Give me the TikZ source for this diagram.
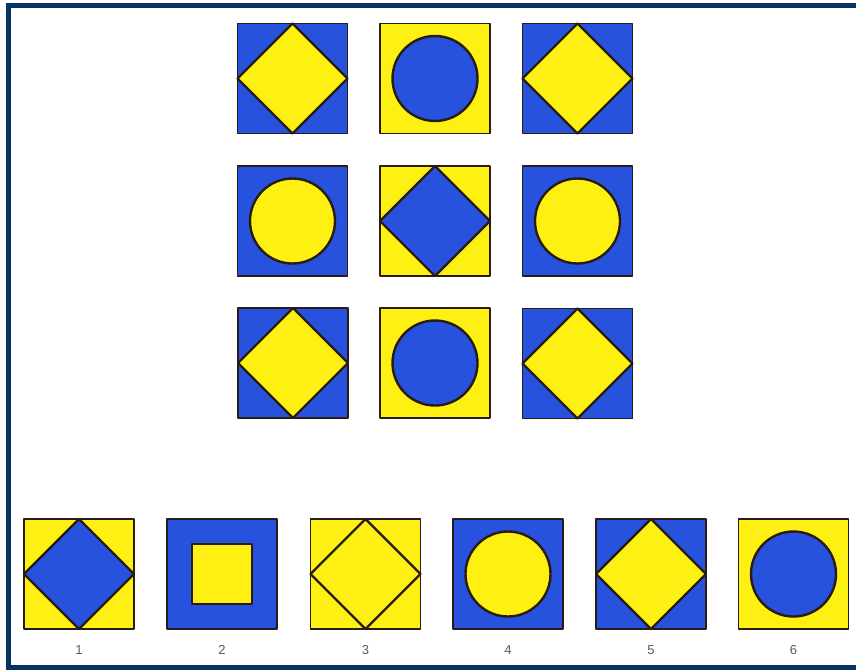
\documentclass[tikz,border=0pt]{standalone}
\usepackage{fontspec}
\setmainfont{Liberation Sans}
\definecolor{tblue}{RGB}{38,82,222}
\definecolor{tyellow}{RGB}{255,240,20}
\definecolor{tline}{RGB}{40,28,20}
\definecolor{tframe}{RGB}{8,52,100}
\definecolor{tlabel}{RGB}{90,90,90}
\tikzset{
  edge/.style={draw=tline, line width=1.9pt, line join=round},
  inner/.style={draw=tline, line width=2.4pt, line join=round},
  lbl/.style={text=tlabel, font=\fontsize{13pt}{15pt}\selectfont, inner sep=0pt},
  pics/diam/.style 2 args={code={
    \path[fill=#1] (-55,-55) rectangle (55,55);
    \path[inner, fill=#2] (0,55) -- (55,0) -- (0,-55) -- (-55,0) -- cycle;
    \path[edge] (-55,-55) rectangle (55,55);
  }},
  pics/circ/.style 2 args={code={
    \path[edge, fill=#1] (-55,-55) rectangle (55,55);
    \path[inner, fill=#2] (0,0) circle (42.5);
  }},
  pics/sqr/.style 2 args={code={
    \path[edge, fill=#1] (-55,-55) rectangle (55,55);
    \path[inner, fill=#2] (-30,-30) rectangle (30,30);
  }}
}
\begin{document}
\begin{tikzpicture}[x=1pt,y=-1pt]
\useasboundingbox[fill=white] (0,0) rectangle (856,670);
% frame
\draw[tframe, line width=5pt] (858,5.5) -- (8.5,5.5) -- (8.5,667.5) -- (858,667.5);
% matrix
\pic at (292.5,78.5) {diam={tblue}{tyellow}};
\pic at (435,78.5) {circ={tyellow}{tblue}};
\pic at (577.5,78.5) {diam={tblue}{tyellow}};
\pic at (292.5,221) {circ={tblue}{tyellow}};
\pic at (435,221) {diam={tyellow}{tblue}};
\pic at (577.5,221) {circ={tblue}{tyellow}};
\pic at (293,363) {diam={tblue}{tyellow}};
\pic at (435,363) {circ={tyellow}{tblue}};
\pic at (577.5,363.5) {diam={tblue}{tyellow}};
% answers
\pic at (79,574) {diam={tyellow}{tblue}};
\pic at (222,574) {sqr={tblue}{tyellow}};
\pic at (365.5,574) {diam={tyellow}{tyellow}};
\pic at (508,574) {circ={tblue}{tyellow}};
\pic at (651,574) {diam={tblue}{tyellow}};
\pic at (793.5,574) {circ={tyellow}{tblue}};
\node[lbl] (l1) at (79,650) {1};
\node[lbl] (l2) at (222,650) {2};
\node[lbl] (l3) at (365.5,650) {3};
\node[lbl] (l4) at (508,650) {4};
\node[lbl] (l5) at (651,650) {5};
\node[lbl] (l6) at (793.5,650) {6};
\end{tikzpicture}
\end{document}
